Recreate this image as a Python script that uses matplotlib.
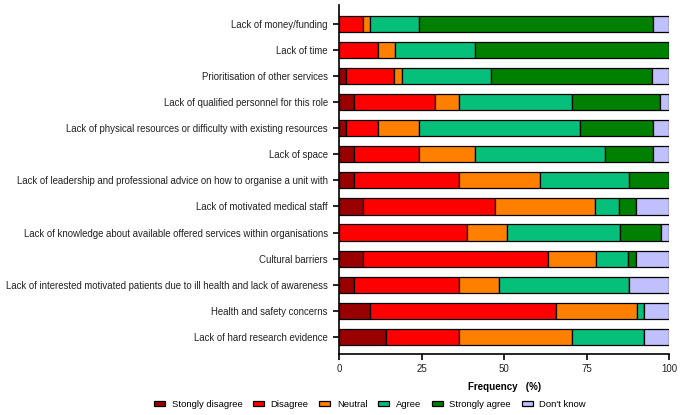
import matplotlib
matplotlib.use("Agg")
import matplotlib.pyplot as plt
import numpy as np

plt.rcParams['font.family'] = ['Liberation Sans', 'DejaVu Sans']

categories = [
    "Lack of money/funding",
    "Lack of time",
    "Prioritisation of other services",
    "Lack of qualified personnel for this role",
    "Lack of physical resources or difficulty with existing resources",
    "Lack of space",
    "Lack of leadership and professional advice on how to organise a unit with",
    "Lack of motivated medical staff",
    "Lack of knowledge about available offered services within organisations",
    "Cultural barriers",
    "Lack of interested motivated patients due to ill health and lack of awareness",
    "Health and safety concerns",
    "Lack of hard research evidence",
]

series_names = ["Stongly disagree", "Disagree", "Neutral", "Agree", "Strongly agree", "Don't know"]

strongly_disagree = [0.0, 0.0, 2.1, 4.6, 2.1, 4.6, 4.6, 7.3, 0.0, 7.1, 4.6, 9.5, 14.2]
disagree          = [7.1, 11.9, 14.6, 24.5, 9.8, 19.5, 31.8, 40.0, 38.8, 56.3, 31.8, 56.3, 22.2]
neutral           = [2.4, 5.0, 2.4, 7.3, 12.3, 17.2, 24.4, 30.1, 12.2, 14.4, 12.1, 24.3, 34.1]
agree             = [14.6, 24.4, 26.9, 34.1, 48.8, 39.1, 26.9, 7.5, 34.2, 9.8, 39.2, 2.4, 22.0]
strongly_agree    = [70.9, 58.7, 48.8, 26.8, 22.1, 14.6, 12.3, 5.0, 12.2, 2.3, 0.0, 0.0, 0.0]
dont_know         = [5.0, 0.0, 5.0, 2.6, 4.8, 5.0, 0.0, 10.1, 2.6, 10.1, 12.3, 7.5, 7.5]

colors = ["#990000", "#FF0000", "#FF8000", "#05BF7B", "#008000", "#C0C0FF"]

x_ticks = [0, 25, 50, 75, 100]

fig = plt.figure(figsize=(6.85, 4.15), dpi=100)
ax = fig.add_axes([0.495, 0.147, 0.482, 0.841])

data = [strongly_disagree, disagree, neutral, agree, strongly_agree, dont_know]
y = np.arange(len(categories))
left = np.zeros(len(categories))
for name, vals, c in zip(series_names, data, colors):
    vals = np.array(vals)
    ax.barh(y, vals, left=left, height=0.62, color=c, edgecolor="black",
            linewidth=0.9, label=name)
    left += vals

ax.set_ylim(12.66, -0.73)
ax.set_xlim(0, 100)
ax.set_yticks(y)
ax.set_yticklabels(categories, fontsize=6.9, color="#222222")
ax.set_xticks(x_ticks)
ax.set_xticklabels([str(t) for t in x_ticks], fontsize=7, color="#222222")
ax.tick_params(axis='both', length=4, width=1.2, color="black")
ax.tick_params(axis='y', pad=4)
ax.tick_params(axis='x', pad=3)
for s in ["top", "right"]:
    ax.spines[s].set_visible(False)
for s in ["left", "bottom"]:
    ax.spines[s].set_linewidth(1.2)

ax.set_xlabel("Frequency   (%)", fontsize=7, fontweight="bold", labelpad=6)

handles, labels = ax.get_legend_handles_labels()
fig.legend(handles, labels, loc="center", bbox_to_anchor=(0.54, 0.026), ncol=6,
           frameon=False, fontsize=6.8, handlelength=1.2, handleheight=0.5,
           columnspacing=1.1, handletextpad=0.7)

fig.savefig("out.png", dpi=100)
